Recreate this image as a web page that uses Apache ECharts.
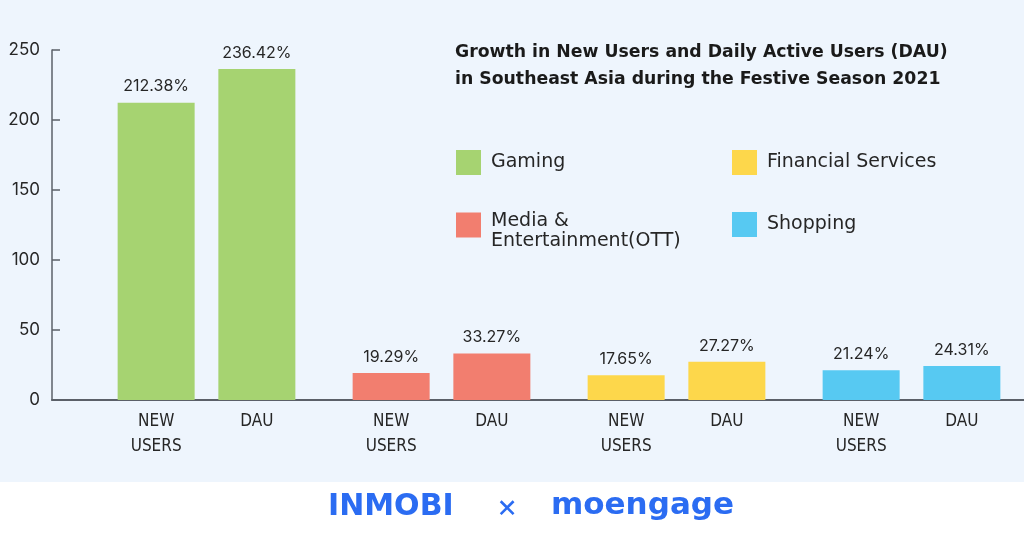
<!DOCTYPE html>
<html>
<head>
  <meta charset="utf-8">
  <title>Festive Season 2021</title>
  <script src="https://cdn.jsdelivr.net/npm/echarts@6/dist/echarts.min.js"></script>
  <style type="text/css">
    html, body { margin: 0; padding: 0; background: #fff; }
    #chart { width: 1024px; height: 536px; }
  </style>
</head>
<body>
  <div id="chart"></div>
  <script>
    // data
    var categories = ['Gaming', 'Media & Entertainment(OTT)', 'Financial Services', 'Shopping'];
    var legendNames = ['Gaming', 'Media &\nEntertainment(OTT)', 'Financial Services', 'Shopping'];
    var colors = ['#a6d371', '#f27e6f', '#fdd74b', '#57c9f2'];
    var newUsers = [212.38, 19.29, 17.65, 21.24];
    var dau = [236.42, 33.27, 27.27, 24.31];
    var yTicks = [0, 50, 100, 150, 200, 250];
    var barNames = ['NEW\nUSERS', 'DAU'];

    var font = 'Inter, "Noto Sans", sans-serif';
    var wide = '"DejaVu Sans", sans-serif';
    var narrow = '"Liberation Sans Narrow", "DejaVu Sans Condensed", sans-serif';

    function colored(arr) {
      return arr.map(function (v, i) {
        return { value: v, itemStyle: { color: colors[i] } };
      });
    }

    var pctLabel = {
      show: true, position: 'top', distance: 8,
      fontFamily: font, fontSize: 16, color: '#262626',
      formatter: function (p) { return p.value.toFixed(2) + '%'; }
    };

    function nameSeries(name) {
      return {
        name: name, type: 'bar', xAxisIndex: 1, yAxisIndex: 0,
        barWidth: 77, barGap: '30.8%', silent: true,
        itemStyle: { color: 'transparent' },
        data: categories.map(function () { return 0; }),
        label: {
          show: true, position: 'bottom', distance: 9,
          formatter: name, fontFamily: narrow, fontSize: 17,
          lineHeight: 25, color: '#262626', align: 'center'
        }
      };
    }

    // two-line legend names get a small spacer line so the text sits below the icon centre
    function legendFormatter(name) {
      if (name.indexOf('\n') < 0) return name;
      return '{s| }\n' + name.split('\n').map(function (t) { return '{a|' + t + '}'; }).join('\n');
    }

    var legendText = {
      fontFamily: wide, fontSize: 19, lineHeight: 21, color: '#262626', padding: [0, 0, 0, 5],
      rich: {
        s: { fontSize: 2, lineHeight: 13 },
        a: { fontFamily: wide, fontSize: 19, lineHeight: 20, color: '#262626' }
      }
    };

    var myChart = echarts.init(document.getElementById('chart'));
    var option = {
      backgroundColor: '#ffffff',
      animation: false,
      graphic: [
        { type: 'rect', z: -10, shape: { x: 0, y: 0, width: 1024, height: 482 }, style: { fill: '#eef5fd' } },
        { type: 'text', x: 328, y: 507, style: { text: 'INMOBI', fontFamily: wide, fontWeight: 'bold', fontSize: 30, fill: '#2b6cf2', verticalAlign: 'middle' } },
        { type: 'text', x: 507, y: 507, style: { text: '×', fontFamily: font, fontSize: 32, fill: '#2b6cf2', align: 'center', verticalAlign: 'middle' } },
        { type: 'text', x: 551, y: 506, style: { text: 'moengage', fontFamily: wide, fontWeight: 'bold', fontSize: 31, fill: '#2b6cf2', verticalAlign: 'middle' } }
      ],
      title: {
        text: 'Growth in New Users and Daily Active Users (DAU)\nin Southeast Asia during the Festive Season 2021',
        left: 450, top: 34,
        textStyle: { fontFamily: wide, fontWeight: 'bold', fontSize: 17.3, lineHeight: 27, color: '#1a1a1a' }
      },
      legend: [
        {
          orient: 'vertical', left: 451, top: 145, itemGap: 23.5,
          itemWidth: 25, itemHeight: 25, icon: 'rect',
          textStyle: legendText, formatter: legendFormatter,
          data: [legendNames[0], legendNames[1]]
        },
        {
          orient: 'vertical', left: 727, top: 145, itemGap: 37,
          itemWidth: 25, itemHeight: 25, icon: 'rect',
          textStyle: legendText, formatter: legendFormatter,
          data: [legendNames[2], legendNames[3]]
        }
      ],
      grid: [
        { left: 89, top: 50, width: 940, height: 350, outerBoundsMode: 'none' },
        { left: 52, top: 50, right: 0, height: 350, outerBoundsMode: 'none' }
      ],
      xAxis: [
        { type: 'category', gridIndex: 0, data: categories, show: false },
        { type: 'category', gridIndex: 0, data: categories, show: false },
        {
          type: 'category', gridIndex: 1, data: [],
          axisLine: { show: true, lineStyle: { color: '#5b6068', width: 2 } },
          axisTick: { show: false }, axisLabel: { show: false }
        }
      ],
      yAxis: [
        { type: 'value', gridIndex: 0, min: 0, max: 250, show: false },
        {
          type: 'value', gridIndex: 1, min: yTicks[0], max: yTicks[yTicks.length - 1], interval: 50,
          axisLine: { show: true, lineStyle: { color: '#5b6068', width: 1.5 } },
          axisTick: { show: true, inside: true, length: 8, lineStyle: { color: '#5b6068', width: 1.5 } },
          axisLabel: { margin: 12, fontFamily: font, fontSize: 17, color: '#262626' },
          splitLine: { show: false }
        }
      ],
      series: [
        {
          name: 'NEW USERS', type: 'bar', xAxisIndex: 0, yAxisIndex: 0,
          barWidth: 77, barGap: '30.8%', data: colored(newUsers), label: pctLabel
        },
        {
          name: 'DAU', type: 'bar', xAxisIndex: 0, yAxisIndex: 0,
          barWidth: 77, barGap: '30.8%', data: colored(dau), label: pctLabel
        },
        nameSeries(barNames[0]),
        nameSeries(barNames[1])
      ].concat(legendNames.map(function (n, i) {
        return { name: n, type: 'scatter', xAxisIndex: 2, yAxisIndex: 1, data: [], itemStyle: { color: colors[i], opacity: 1 } };
      }))
    };
    myChart.setOption(option);
  </script>
</body>
</html>
